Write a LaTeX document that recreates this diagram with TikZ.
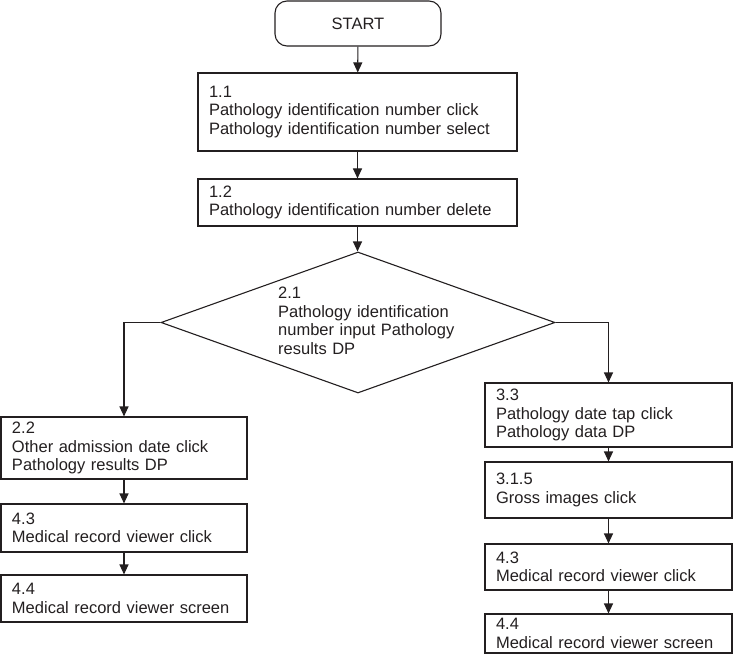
\documentclass[tikz,border=0pt]{standalone}
\usepackage{fontspec}
\setmainfont{Liberation Sans}
\usetikzlibrary{arrows.meta,shapes.geometric}
\definecolor{ink}{HTML}{231F20}
\begin{document}
\begin{tikzpicture}[x=1pt,y=-1pt,
  every node/.style={font=\fontsize{16.5}{18.5}\selectfont, text=ink},
  box/.style={draw=ink, line width=1.1pt, rectangle, inner xsep=11pt, inner ysep=0pt, align=left},
  arr/.style={draw=ink, line width=1.1pt, -{Triangle[length=10pt,width=9pt]}}]
\useasboundingbox (0,0) rectangle (733,663);
\node[box, rounded corners=12pt, align=center, minimum width=166pt, minimum height=45pt, inner xsep=0pt] (start) at (358,23.5) {START};
\node[box, text width=297pt, minimum height=78pt] (b11) at (357.5,112) {1.1\\Pathology identification number click\\Pathology identification number select};
\node[box, text width=297pt, minimum height=47pt] (b12) at (357.5,202.5) {1.2\\Pathology identification number delete};
\node[diamond, draw=ink, line width=1.1pt, minimum width=394pt, minimum height=141pt, inner sep=0pt] (d21) at (358,322.5) {};
\node[anchor=west, text width=185pt, align=left, inner sep=0pt] (d21text) at (278,321) {2.1\\Pathology identification\\number input Pathology\\results DP};
\node[box, text width=224pt, minimum height=62pt] (b22) at (124,448) {2.2\\Other admission date click\\Pathology results DP};
\node[box, text width=224pt, minimum height=48pt] (b43l) at (124,528) {4.3\\Medical record viewer click};
\node[box, text width=224pt, minimum height=47pt] (b44l) at (124,598.5) {4.4\\Medical record viewer screen};
\node[box, text width=225pt, minimum height=64pt] (b33) at (608.5,415) {3.3\\Pathology date tap click\\Pathology data DP};
\node[box, text width=225pt, minimum height=56pt] (b315) at (608.5,490) {3.1.5\\Gross images click};
\node[box, text width=225pt, minimum height=46pt] (b43r) at (608.5,567) {4.3\\Medical record viewer click};
\node[box, text width=225pt, minimum height=39pt] (b44r) at (608.5,633.5) {4.4\\Medical record viewer screen};
\draw[arr] (start) -- (b11);
\draw[arr] (b11) -- (b12);
\draw[arr] (b12.south) -- (b12.south |- d21.north);
\draw[arr] (d21.west) -| (b22.north);
\draw[arr] (d21.east) -| (b33.north);
\draw[arr] (b22) -- (b43l);
\draw[arr] (b43l) -- (b44l);
\draw[arr] (b33) -- (b315);
\draw[arr] (b315) -- (b43r);
\draw[arr] (b43r) -- (b44r);
\end{tikzpicture}
\end{document}
